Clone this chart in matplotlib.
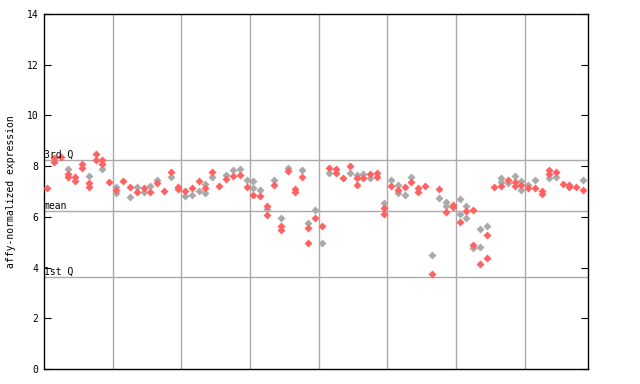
import matplotlib
matplotlib.use("Agg")
import matplotlib.pyplot as plt

# values per sample column (index = sample position on x)
red_pts = [
    [7.13], [8.33, 8.18], [8.35], [7.68, 7.58], [7.56, 7.42],
    [8.07, 7.94], [7.32, 7.19], [8.47, 8.24], [8.24, 8.08], [7.39],
    [7.06], [7.43], [7.19], [6.99], [7.15],
    [6.99], [7.35], [7.02], [7.78], [7.19, 7.09],
    [7.02], [7.15], [7.41], [7.12], [7.78],
    [7.23], [7.49], [7.62], [7.65], [7.19],
    [6.86], [6.83], [6.44, 6.07], [7.26], [5.65, 5.48],
    [7.81], [7.08, 6.97], [7.56], [5.55, 4.96], [5.94],
    [5.64], [7.91], [7.89, 7.71], [7.54], [7.99],
    [7.54, 7.26], [7.54], [7.68], [7.71, 7.56], [6.34, 6.10],
    [7.23], [7.06], [7.19], [7.39], [7.12, 6.99],
    [7.22], [3.75], [7.10], [6.18], [6.47, 6.38],
    [5.79], [6.23], [6.27, 4.89], [4.14], [5.28, 4.39],
    [7.19], [7.23], [7.45], [7.36, 7.23], [7.26],
    [7.12], [7.12], [7.02, 6.89], [7.85, 7.68], [7.78],
    [7.28], [7.26, 7.16], [7.19], [7.06],
]
grey_pts = [
    [], [], [], [7.89], [],
    [], [7.61], [], [7.89], [],
    [7.19, 6.93], [], [6.77], [7.19], [6.97],
    [7.23], [7.45], [], [7.58], [],
    [6.83], [6.86], [7.02], [7.28, 6.93], [7.56],
    [], [7.65], [7.85], [7.87], [7.45],
    [7.41, 7.15], [7.06], [6.31], [7.45], [5.94],
    [7.94], [], [7.85], [5.75], [6.27],
    [4.96], [7.71], [], [], [7.71],
    [7.65], [7.68], [7.54], [], [6.53],
    [7.45], [7.26, 6.93], [6.86], [7.56], [],
    [], [4.50], [6.73], [6.60, 6.44], [],
    [6.70, 6.10], [6.43, 5.94], [4.78], [5.51, 4.82], [5.64],
    [], [7.52, 7.36], [7.32], [7.62], [7.41, 7.06],
    [7.26], [7.45], [], [7.52], [7.58],
    [], [], [], [7.45],
]
group_edges = [9.5, 19.5, 29.5, 39.5, 49.5, 59.5, 69.5]
q3, mean, q1 = 8.24, 6.23, 3.63
yticks = [0, 2, 4, 6, 8, 10, 12, 14]

mono = "DejaVu Sans Mono"
fig = plt.figure(figsize=(6.4, 3.84), dpi=100)
ax = fig.add_axes([44 / 640, 15 / 384, 544 / 640, 355 / 384])

for x in group_edges:
    ax.axvline(x, color="#aaaaaa", lw=1, zorder=1)
for y in (q3, mean, q1):
    ax.axhline(y, color="#aaaaaa", lw=1, zorder=1)

for i, vals in enumerate(grey_pts):
    ax.plot([i] * len(vals), vals, "D", ms=3.6, color="#aaaaaa", mec="none", zorder=2)
for i, vals in enumerate(red_pts):
    ax.plot([i] * len(vals), vals, "D", ms=3.6, color="#ff6262", mec="none", zorder=3)

ax.text(-0.5, q3, "3rd Q", family=mono, fontsize=7, va="bottom", ha="left")
ax.text(-0.5, mean, "mean", family=mono, fontsize=7, va="bottom", ha="left")
ax.text(-0.5, q1, "1st Q", family=mono, fontsize=7, va="bottom", ha="left")

ax.set_xlim(-0.5, 78.7)
ax.set_ylim(0, 14)
ax.set_yticks(yticks)
ax.set_yticklabels([str(t) for t in yticks], family=mono, fontsize=7)
ax.set_xticks([])
ax.tick_params(axis="y", direction="in", length=5, right=True, pad=4)
ax.set_ylabel("affy-normalized expression", family=mono, fontsize=7, labelpad=8)
for s in ax.spines.values():
    s.set_color("black")
    s.set_linewidth(1)

fig.savefig("out.png", dpi=100)
